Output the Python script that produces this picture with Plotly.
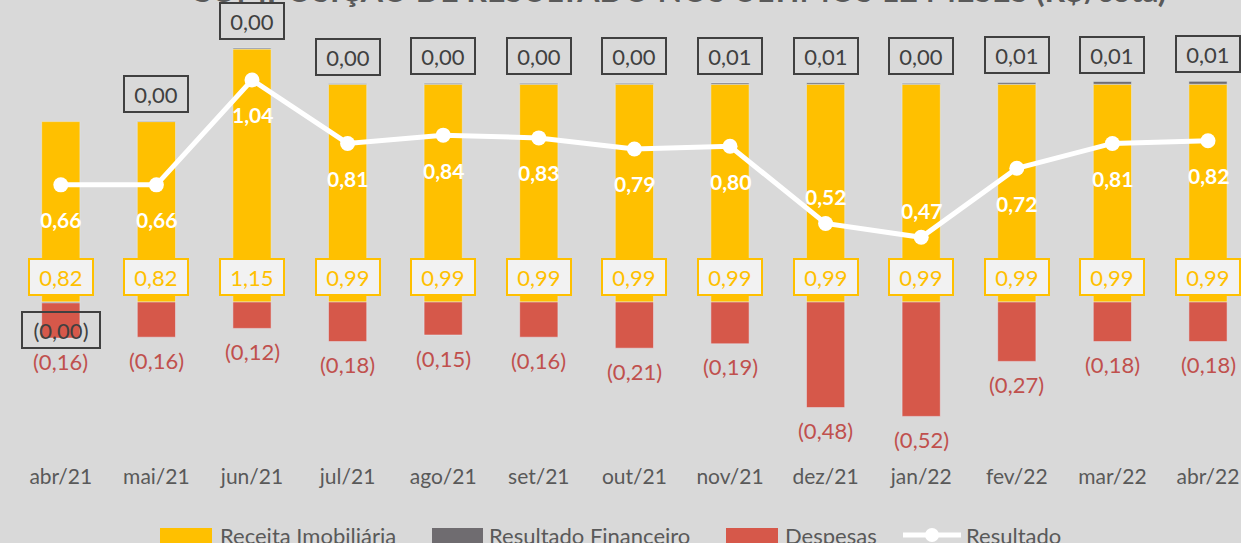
import plotly.graph_objects as go

# ---------------- data ----------------
months = ['abr/21', 'mai/21', 'jun/21', 'jul/21', 'ago/21', 'set/21', 'out/21',
          'nov/21', 'dez/21', 'jan/22', 'fev/22', 'mar/22', 'abr/22']
receita = [0.82, 0.82, 1.15, 0.99, 0.99, 0.99, 0.99, 0.99, 0.99, 0.99, 0.99, 0.99, 0.99]
res_financeiro = [-0.004, 0.003, 0.004, 0.003, 0.004, 0.004, 0.004, 0.006, 0.007, 0.004, 0.008, 0.012, 0.013]
despesas = [-0.16, -0.16, -0.12, -0.18, -0.15, -0.16, -0.21, -0.19, -0.48, -0.52, -0.27, -0.18, -0.18]
resultado = [0.66, 0.66, 1.04, 0.81, 0.84, 0.83, 0.79, 0.80, 0.52, 0.47, 0.72, 0.81, 0.82]

# label placement for the Resultado line (style only)
resultado_label_above = [False, False, False, False, False, False, False, False, True, True, False, False, False]

TITLE = 'COMPOSIÇÃO DE RESULTADO NOS ÚLTIMOS 12 MESES (R$/cota)'

# ---------------- style ----------------
BG = '#D9D9D9'
YELLOW = '#FFC000'
GRAY = '#6F6C70'
RED = '#D6584A'
RED_TXT = '#C0504D'
DARK = '#404040'
TXT = '#595959'
FONT = 'Lato'

W, H = 1241, 543
ML, MR, MT, MB = 13, 0, 0, 81
PW, PH = W - ML - MR, H - MT - MB


def br(v):
    s = f"{abs(v):.2f}".replace('.', ',')
    return f"({s})" if v < 0 else s


def px2x(px):
    return (px - ML) / PW


def px2y(py):
    return (PH + MT - py) / PH


fig = go.Figure()
fig.add_trace(go.Bar(x=months, y=receita, name='Receita Imobiliária', marker_color=YELLOW,
                     width=0.4, showlegend=False))
fig.add_trace(go.Bar(x=months, y=res_financeiro, name='Resultado Financeiro', marker_color=GRAY,
                     width=0.4, showlegend=False))
fig.add_trace(go.Bar(x=months, y=despesas, name='Despesas', marker_color=RED,
                     width=0.4, showlegend=False))
fig.add_trace(go.Scatter(x=months, y=resultado, name='Resultado', yaxis='y2', mode='lines+markers',
                         line=dict(color='white', width=5), marker=dict(color='white', size=15),
                         showlegend=False))

ann = []
# title (partially clipped at the top, as in the reference)
ann.append(dict(x=px2x(678), y=px2y(-11), xref='paper', yref='paper', text='<b>' + TITLE + '</b>',
                showarrow=False, font=dict(family=FONT, size=32, color=TXT),
                xanchor='center', yanchor='middle'))

for i, m in enumerate(months):
    # Receita label box near the base
    ann.append(dict(x=m, y=0, xref='x', yref='y', yshift=25, text=br(receita[i]), showarrow=False,
                    font=dict(family=FONT, size=22, color=YELLOW), bgcolor='#F2F2F2',
                    bordercolor=YELLOW, borderwidth=2, borderpad=1, width=60, height=32,
                    xanchor='center', yanchor='middle'))
    # Resultado Financeiro label box
    rf = res_financeiro[i]
    if rf >= 0:
        ann.append(dict(x=m, y=receita[i] + rf, xref='x', yref='y', yshift=27, text=br(rf),
                        showarrow=False, font=dict(family=FONT, size=22, color=DARK),
                        bordercolor=DARK, borderwidth=2, borderpad=1, width=60, height=32,
                        xanchor='center', yanchor='middle'))
    else:
        ann.append(dict(x=m, y=rf, xref='x', yref='y', yshift=-27, text=br(rf),
                        showarrow=False, font=dict(family=FONT, size=22, color=DARK),
                        bordercolor=DARK, borderwidth=2, borderpad=1, width=74, height=32,
                        xanchor='center', yanchor='middle'))
    # Despesas label
    ann.append(dict(x=m, y=despesas[i] + min(rf, 0), xref='x', yref='y', yshift=-23, text=br(despesas[i]),
                    showarrow=False, font=dict(family=FONT, size=22, color=RED_TXT),
                    xanchor='center', yanchor='middle'))
    # Resultado label
    ann.append(dict(x=m, y=resultado[i], xref='x', yref='y2',
                    yshift=27 if resultado_label_above[i] else -35,
                    text='<b>' + br(resultado[i]) + '</b>', showarrow=False,
                    font=dict(family=FONT, size=21, color='white'),
                    xanchor='center', yanchor='middle'))

# manual legend
shapes = []
legend_items = [
    ('rect', YELLOW, 160, 212, 'Receita Imobiliária', 218),
    ('rect', GRAY, 432, 483, 'Resultado Financeiro', 487),
    ('rect', RED, 726, 778, 'Despesas', 783),
    ('line', 'white', 903, 961, 'Resultado', 964),
]
LY = 535
for kind, col, x0, x1, label, tx in legend_items:
    if kind == 'rect':
        shapes.append(dict(type='rect', xref='paper', yref='paper', x0=px2x(x0), x1=px2x(x1),
                           y0=px2y(544), y1=px2y(528), fillcolor=col, line=dict(width=0)))
    else:
        shapes.append(dict(type='line', xref='paper', yref='paper', x0=px2x(x0), x1=px2x(x1),
                           y0=px2y(LY), y1=px2y(LY), line=dict(color=col, width=5)))
        cx = (x0 + x1) / 2
        shapes.append(dict(type='circle', xref='paper', yref='paper', x0=px2x(cx - 7), x1=px2x(cx + 7),
                           y0=px2y(LY + 7), y1=px2y(LY - 7), fillcolor=col, line=dict(width=0)))
    ann.append(dict(x=px2x(tx), y=px2y(LY), xref='paper', yref='paper', text=label, showarrow=False,
                    font=dict(family=FONT, size=22, color=TXT), xanchor='left', yanchor='middle'))

Y0 = 302  # pixel of zero on primary axis
S1 = 220  # px per unit, primary
Y0b = 367  # pixel of zero on secondary axis
S2 = 276

fig.update_layout(
    width=W, height=H, autosize=False,
    margin=dict(l=ML, r=MR, t=MT, b=MB),
    paper_bgcolor=BG, plot_bgcolor=BG,
    barmode='relative',
    showlegend=False,
    font=dict(family=FONT, color=TXT),
    xaxis=dict(type='category', range=[-0.5, -0.5 + PW / 95.6], showgrid=False, zeroline=False,
               showline=False, ticks='', tickfont=dict(family=FONT, size=21, color=TXT)),
    yaxis=dict(range=[-(PH - Y0) / S1, Y0 / S1], visible=False),
    yaxis2=dict(range=[-(PH - Y0b) / S2, Y0b / S2], overlaying='y', visible=False),
    annotations=ann,
    shapes=shapes,
)

fig.write_html('out.html', config={'displayModeBar': False},
               post_script="document.body.style.margin='0';document.body.style.overflow='hidden';")
